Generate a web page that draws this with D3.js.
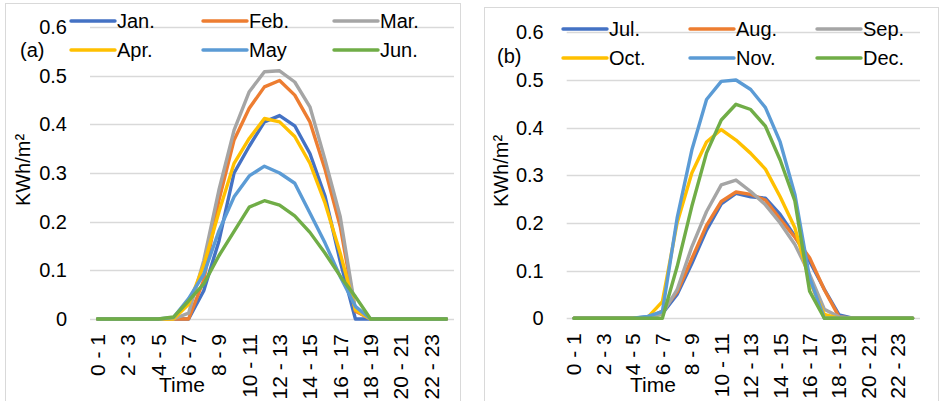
<!DOCTYPE html>
<html>
<head>
<meta charset="utf-8">
<script src="https://cdn.jsdelivr.net/npm/d3@7"></script>
<style>
  html, body { margin: 0; padding: 0; background: #fff; }
  svg { display: block; font-family: "Liberation Sans", Arial, sans-serif; }
</style>
</head>
<body>
<svg id="chart" width="940" height="401"></svg>
<script>
// Categories (hours)
const hours = ["0 - 1","1 - 2","2 - 3","3 - 4","4 - 5","5 - 6","6 - 7","7 - 8","8 - 9","9 - 10","10 - 11","11 - 12",
               "12 - 13","13 - 14","14 - 15","15 - 16","16 - 17","17 - 18","18 - 19","19 - 20","20 - 21","21 - 22","22 - 23","23 - 24"];
const yTicks = [0, 0.1, 0.2, 0.3, 0.4, 0.5, 0.6];
const yTickLabels = ["0", "0.1", "0.2", "0.3", "0.4", "0.5", "0.6"];

// Panel (a) series
const jan = [0,0,0,0,0,0,0,0.058,0.16,0.30,0.355,0.405,0.418,0.397,0.34,0.252,0.118,0,0,0,0,0,0,0];
const feb = [0,0,0,0,0,0,0,0.08,0.244,0.368,0.433,0.477,0.49,0.46,0.405,0.307,0.19,0.016,0,0,0,0,0,0];
const mar = [0,0,0,0,0,0,0.012,0.12,0.265,0.388,0.467,0.508,0.51,0.487,0.436,0.327,0.21,0.019,0,0,0,0,0,0];
const apr = [0,0,0,0,0,0,0.03,0.11,0.22,0.32,0.371,0.412,0.405,0.375,0.32,0.238,0.135,0.019,0,0,0,0,0,0];
const may = [0,0,0,0,0,0.003,0.042,0.092,0.181,0.251,0.294,0.314,0.30,0.279,0.218,0.156,0.087,0.026,0,0,0,0,0,0];
const jun = [0,0,0,0,0,0.004,0.037,0.072,0.13,0.18,0.23,0.243,0.234,0.212,0.178,0.135,0.088,0.046,0,0,0,0,0,0];

// Panel (b) series
const jul = [0,0,0,0,0,0.003,0.01,0.05,0.115,0.185,0.24,0.262,0.255,0.252,0.218,0.172,0.12,0.061,0.007,0,0,0,0,0];
const aug = [0,0,0,0,0,0,0.015,0.055,0.125,0.195,0.245,0.265,0.26,0.248,0.208,0.17,0.127,0.06,0.003,0,0,0,0,0];
const sep = [0,0,0,0,0,0,0.01,0.06,0.15,0.224,0.28,0.29,0.266,0.238,0.2,0.155,0.092,0.019,0.003,0,0,0,0,0];
const oct = [0,0,0,0,0,0.002,0.035,0.2,0.305,0.37,0.396,0.374,0.346,0.313,0.255,0.19,0.078,0.008,0,0,0,0,0,0];
const nov = [0,0,0,0,0,0.004,0.014,0.21,0.353,0.459,0.497,0.5,0.48,0.442,0.37,0.26,0.085,0,0,0,0,0,0,0];
const dec = [0,0,0,0,0,0,0,0.108,0.235,0.347,0.416,0.449,0.438,0.403,0.332,0.246,0.057,0,0,0,0,0,0,0];

const namesA = ["Jan.", "Feb.", "Mar.", "Apr.", "May", "Jun."];
const namesB = ["Jul.", "Aug.", "Sep.", "Oct.", "Nov.", "Dec."];
const colors = ["#4472C4", "#ED7D31", "#A5A5A5", "#FFC000", "#5B9BD5", "#70AD47"];

const svg = d3.select("#chart");

function panel(cfg) {
  const g = svg.append("g");
  // frame
  g.append("rect").attr("x", cfg.frame[0] + 0.5).attr("y", cfg.frame[1] + 0.5)
    .attr("width", cfg.frame[2]).attr("height", cfg.frame[3])
    .attr("fill", "none").attr("stroke", "#d9d9d9").attr("stroke-width", 1);

  const x = d3.scaleBand().domain(hours).range([cfg.left, cfg.right]).padding(0);
  const y = d3.scaleLinear().domain([0, 0.6]).range([cfg.bottom, cfg.top]);

  // gridlines
  g.append("g").selectAll("line").data(yTicks).join("line")
    .attr("x1", cfg.left).attr("x2", cfg.right)
    .attr("y1", d => Math.round(y(d)) + 0.5).attr("y2", d => Math.round(y(d)) + 0.5)
    .attr("stroke", "#d9d9d9").attr("stroke-width", 1.3);

  // y axis labels
  const yAxis = d3.axisLeft(y).tickValues(yTicks).tickFormat((d, i) => yTickLabels[i]).tickSize(0).tickPadding(23);
  const ya = g.append("g").attr("transform", `translate(${cfg.left},0)`).call(yAxis);
  ya.select(".domain").remove();
  ya.selectAll("text").attr("font-size", 20).attr("fill", "#000")
    .attr("font-family", "Liberation Sans, Arial, sans-serif");

  // x axis labels (every other category)
  g.append("g").selectAll("text").data(hours.filter((d, i) => i % 2 === 0)).join("text")
    .attr("transform", d => `translate(${x(d) + x.bandwidth() / 2},${cfg.bottom + 15}) rotate(-90)`)
    .attr("text-anchor", "end").attr("dy", "0.35em")
    .attr("font-size", 21).attr("fill", "#000")
    .text(d => d);

  // lines
  const line = d3.line().x((d, i) => x(hours[i]) + x.bandwidth() / 2).y(d => y(d));
  g.append("g").selectAll("path").data(cfg.series).join("path")
    .attr("d", d => line(d))
    .attr("fill", "none")
    .attr("stroke", (d, i) => colors[i])
    .attr("stroke-width", 3.4)
    .attr("stroke-linejoin", "round")
    .attr("stroke-linecap", "round");

  // legend
  const leg = g.append("g");
  cfg.names.forEach((n, i) => {
    const col = i % 3, row = Math.floor(i / 3);
    const lx = cfg.legX[col], ly = cfg.legY[row];
    leg.append("line").attr("x1", lx).attr("x2", lx + 44).attr("y1", ly).attr("y2", ly)
      .attr("stroke", colors[i]).attr("stroke-width", 3.4).attr("stroke-linecap", "round");
    leg.append("text").attr("x", lx + 46).attr("y", ly + 7).attr("font-size", 20).attr("fill", "#000").text(n);
  });

  // panel tag
  g.append("text").attr("x", cfg.tag[0]).attr("y", cfg.tag[1]).attr("font-size", 20).attr("fill", "#000").text(cfg.tagText);

  // y title
  g.append("text").attr("transform", `translate(${cfg.yTitle[0]},${cfg.yTitle[1]}) rotate(-90)`)
    .attr("text-anchor", "middle").attr("font-size", 20).attr("fill", "#000").text("KWh/m²");

  // x title
  g.append("text").attr("x", cfg.xTitle[0]).attr("y", cfg.xTitle[1])
    .attr("text-anchor", "middle").attr("font-size", 21).attr("fill", "#000").text("Time");
}

panel({
  frame: [5, 3, 455, 420],
  left: 90, right: 454, top: 27, bottom: 319,
  series: [jan, feb, mar, apr, may, jun], names: namesA,
  legX: [71, 203, 334], legY: [21, 50],
  tag: [20, 57], tagText: "(a)",
  yTitle: [30, 170], xTitle: [182, 392]
});

panel({
  frame: [484, 7, 454, 420],
  left: 566.7, right: 920, top: 32.3, bottom: 318.3,
  series: [jul, aug, sep, oct, nov, dec], names: namesB,
  legX: [563, 690, 817], legY: [29, 58],
  tag: [497, 63], tagText: "(b)",
  yTitle: [508, 171], xTitle: [653, 392]
});
</script>
</body>
</html>
